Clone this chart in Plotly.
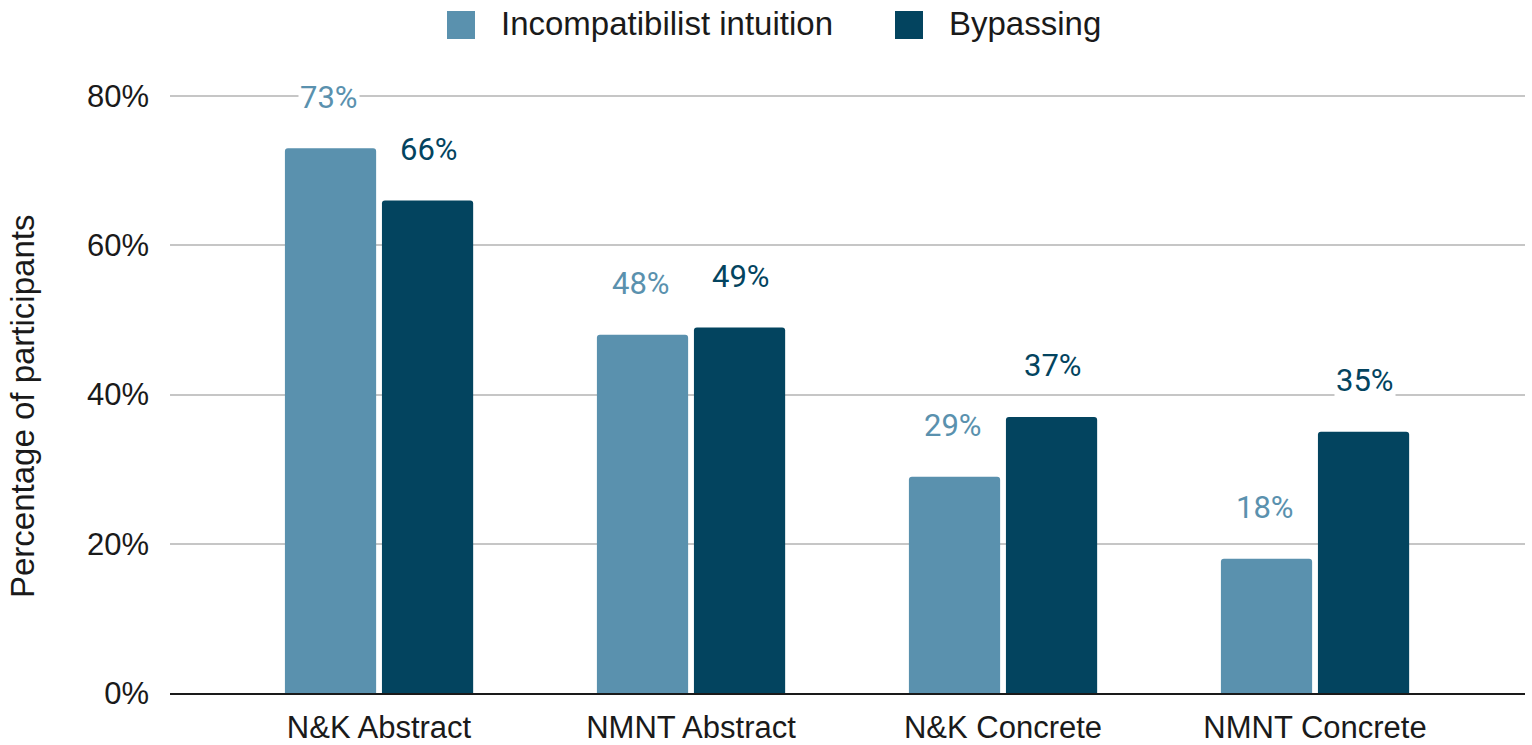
import plotly.graph_objects as go

categories = ["N&K Abstract", "NMNT Abstract", "N&K Concrete", "NMNT Concrete"]
incompat = [73, 48, 29, 18]
bypassing = [66, 49, 37, 35]
series_names = ["Incompatibilist intuition", "Bypassing"]
colors = ["#5a91ae", "#03445f"]
yticks = [0, 20, 40, 60, 80]
ytick_labels = ["0%", "20%", "40%", "60%", "80%"]
y_title = "Percentage of participants"

L, R, T, B = 170, 7, 95, 52
W, H = 1532, 745
pw, ph = W - L - R, H - T - B

fig = go.Figure()
for name, vals, col in zip(series_names, [incompat, bypassing], colors):
    fig.add_trace(go.Bar(x=categories, y=vals, name=name, marker_color=col,
                         marker_line_width=0, showlegend=False))

for i, (vals, col) in enumerate(zip([incompat, bypassing], colors)):
    for c, v in zip(categories, vals):
        fig.add_annotation(x=c, y=v, text=f"{v}%", showarrow=False,
                           xshift=-50 if i == 0 else 50, yshift=51,
                           font=dict(family="Roboto", size=31, color=col),
                           bgcolor="white", borderpad=1)

def px_x(p):
    return (p - L) / pw

def px_y(p):
    return (H - B - p) / ph

# manual legend (large square swatches)
legend_x = [447, 895]
for name, col, lx in zip(series_names, colors, legend_x):
    fig.add_shape(type="rect", xref="paper", yref="paper",
                  x0=px_x(lx), x1=px_x(lx + 28), y0=px_y(39), y1=px_y(11),
                  fillcolor=col, line=dict(width=0), layer="above")
    fig.add_annotation(xref="paper", yref="paper", x=px_x(lx + 52), y=px_y(24),
                       xanchor="left", yanchor="middle", showarrow=False, text=name,
                       font=dict(family="Liberation Sans", size=33, color="#1a1a1a"))

# y-axis title
fig.add_annotation(xref="paper", yref="paper", x=px_x(22), y=px_y(407),
                   xanchor="center", yanchor="middle", showarrow=False,
                   text=y_title, textangle=-90,
                   font=dict(family="Liberation Sans", size=33, color="#1a1a1a"))

fig.update_layout(
    width=W, height=H,
    margin=dict(l=L, r=R, t=T, b=B, autoexpand=False),
    plot_bgcolor="white", paper_bgcolor="white",
    barmode="group", bargap=0.378, bargroupgap=0.06, barcornerradius=3,
    font=dict(family="Liberation Sans", size=33, color="#1a1a1a"),
    showlegend=False,
)
fig.update_xaxes(range=[-0.67, 3.673], showline=True, linecolor="#1a1a1a", linewidth=2,
                 ticks="", tickfont=dict(size=31, color="#1a1a1a"), ticklabelstandoff=6)
fig.update_yaxes(range=[0, 80.15], tickvals=yticks, ticktext=ytick_labels,
                 showgrid=True, gridcolor="#c6c6c6", gridwidth=2, zeroline=False,
                 tickfont=dict(size=31, color="#1a1a1a"), ticklabelstandoff=20)
fig.write_html("out.html", config={"displayModeBar": False},
               post_script="document.body.style.margin='0';document.body.style.overflow='hidden';")
